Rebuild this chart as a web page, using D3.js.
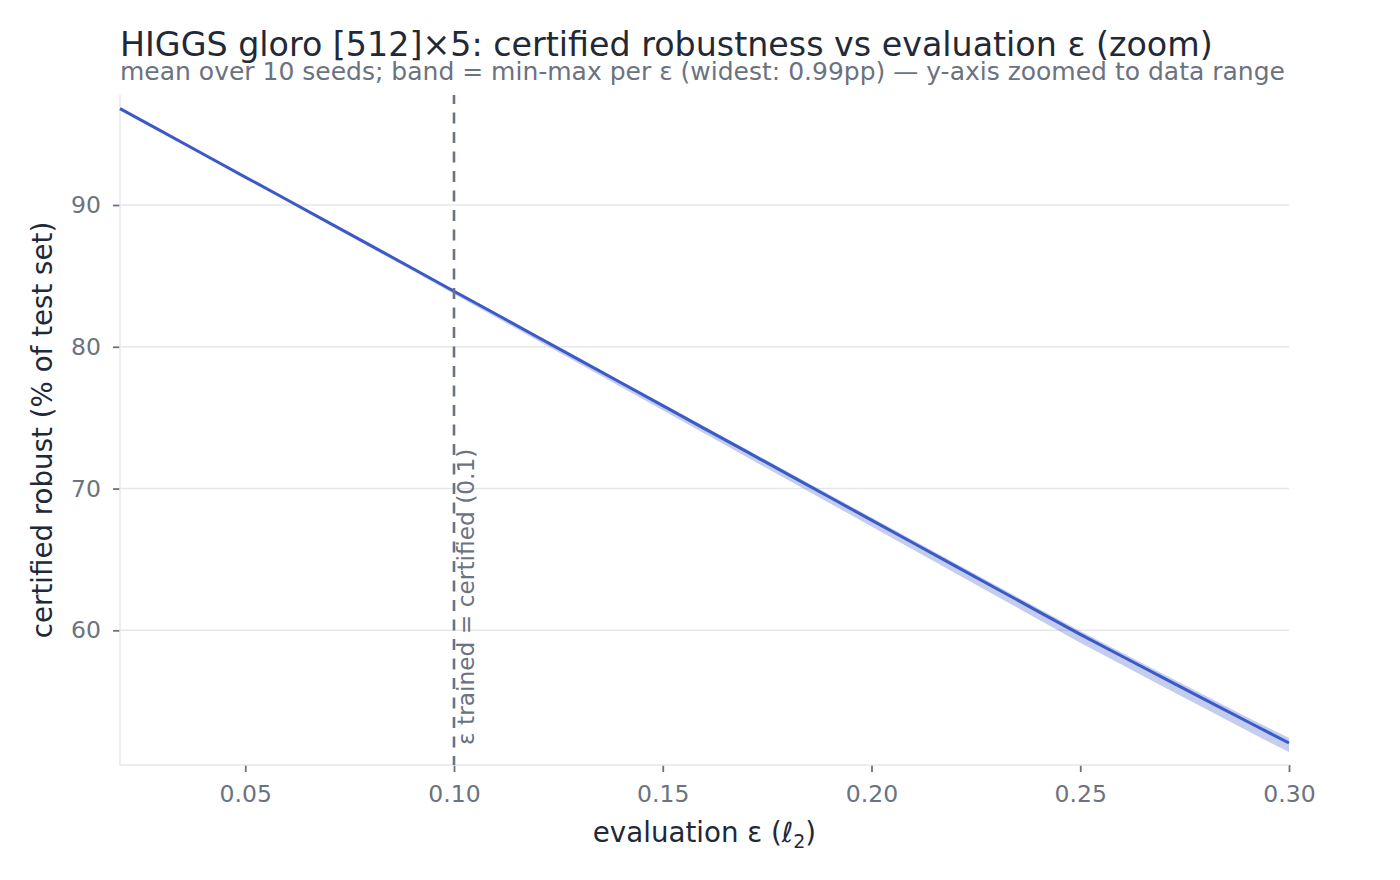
<!DOCTYPE html>
<html><head><meta charset="utf-8">
<script src="https://cdn.jsdelivr.net/npm/d3@7/dist/d3.min.js"></script>
<style>body{margin:0;background:#fff;font-family:"DejaVu Sans",sans-serif;}</style>
</head><body><svg id="c" width="1400" height="880"></svg>
<script>
const epsValues = [0.02,0.03,0.04,0.05,0.06,0.07,0.08,0.09,0.10,0.11,0.12,0.13,0.14,0.15,0.16,0.17,0.18,0.19,0.20,0.21,0.22,0.23,0.24,0.25,0.26,0.27,0.28,0.29,0.30];
const meanValues = [96.80,95.19,93.58,91.97,90.37,88.76,87.15,85.54,83.92,82.31,80.69,79.08,77.46,75.85,74.23,72.62,71.00,69.39,67.77,66.16,64.55,62.93,61.32,59.71,58.17,56.63,55.10,53.57,52.05];
const maxValues = [96.85,95.24,93.64,92.03,90.44,88.83,87.23,85.62,84.02,82.41,80.81,79.20,77.59,75.98,74.38,72.77,71.17,69.56,67.95,66.36,64.75,63.15,61.54,59.95,58.42,56.90,55.38,53.87,52.40];
const minValues = [96.75,95.13,93.51,91.89,90.27,88.64,87.01,85.38,83.72,82.09,80.44,78.80,77.16,75.53,73.88,72.24,70.60,68.97,67.32,65.68,64.05,62.41,60.77,59.13,57.57,56.01,54.46,52.91,51.41];
const xTicks = [0.05,0.10,0.15,0.20,0.25,0.30];
const yTicks = [60,70,80,90];
const epsTrained = 0.1;

const svg = d3.select("#c");
const L=120,R=1289,T=95,B=765;
const lo=d3.min(minValues), hi=d3.max(maxValues), pad=(hi-lo)*0.02;
const x=d3.scaleLinear().domain([0.02,0.30]).range([L,R]);
const y=d3.scaleLinear().domain([lo-pad,hi+pad]).range([B,T]);
const data=epsValues.map((e,i)=>({e,m:meanValues[i],lo:minValues[i],hi:maxValues[i]}));

// grid
svg.append("g").selectAll("line").data(yTicks).join("line")
 .attr("x1",L).attr("x2",R).attr("y1",d=>y(d)).attr("y2",d=>y(d))
 .attr("stroke","#e5e7eb").attr("stroke-width",1.5);

// axes
const ya=svg.append("g").attr("transform",`translate(${L},0)`).call(d3.axisLeft(y).tickValues(yTicks).tickSize(7).tickPadding(12));
const xa=svg.append("g").attr("transform",`translate(0,${B})`).call(d3.axisBottom(x).tickValues(xTicks).tickFormat(d3.format(".2f")).tickSize(7).tickPadding(13));
[ya,xa].forEach(a=>{
 a.select(".domain").remove();
 a.selectAll(".tick line").attr("stroke","#6b7280").attr("stroke-width",1.8);
 a.selectAll(".tick text").attr("fill","#6b7280").attr("font-size",23.5).attr("font-family","DejaVu Sans");
});
svg.append("line").attr("x1",L).attr("x2",L).attr("y1",T).attr("y2",B).attr("stroke","#e5e7eb").attr("stroke-width",1.5);
svg.append("line").attr("x1",L).attr("x2",R).attr("y1",B).attr("y2",B).attr("stroke","#e5e7eb").attr("stroke-width",1.5);

// band + line
svg.append("path").datum(data).attr("fill","#3a5bc7").attr("fill-opacity",0.3)
 .attr("d",d3.area().x(d=>x(d.e)).y0(d=>y(d.lo)).y1(d=>y(d.hi)));
svg.append("path").datum(data).attr("fill","none").attr("stroke","#3a5bc7").attr("stroke-width",3)
 .attr("d",d3.line().x(d=>x(d.e)).y(d=>y(d.m)));

// trained eps line
svg.append("line").attr("x1",x(epsTrained)).attr("x2",x(epsTrained)).attr("y1",T).attr("y2",B)
 .attr("stroke","#6b7280").attr("stroke-width",2.6).attr("stroke-dasharray","11,8.5").attr("stroke-dashoffset",2);
svg.append("text").attr("transform",`translate(${x(epsTrained)+20},745) rotate(-90)`)
 .attr("fill","#6b7280").attr("font-size",23.3).text("ε trained = certified (0.1)");

// titles
svg.append("text").attr("x",120).attr("y",56).attr("fill","#1f2937").attr("font-size",33.3)
 .text("HIGGS gloro [512]×5: certified robustness vs evaluation ε (zoom)");
svg.append("text").attr("x",120).attr("y",80).attr("fill","#6b7280").attr("font-size",25)
 .text("mean over 10 seeds; band = min-max per ε (widest: 0.99pp) — y-axis zoomed to data range");
svg.append("text").attr("transform",`translate(52,${(T+B)/2}) rotate(-90)`).attr("text-anchor","middle")
 .attr("fill","#1f2937").attr("font-size",27.7).text("certified robust (% of test set)");
const xl=svg.append("text").attr("x",(L+R)/2).attr("y",842).attr("text-anchor","middle").attr("fill","#1f2937").attr("font-size",27.7);
xl.append("tspan").text("evaluation ε (");
xl.append("tspan").attr("font-style","italic").text("ℓ");
xl.append("tspan").attr("font-size",19).attr("dy",6).text("2");
xl.append("tspan").attr("dy",-6).text(")");
</script></body></html>
